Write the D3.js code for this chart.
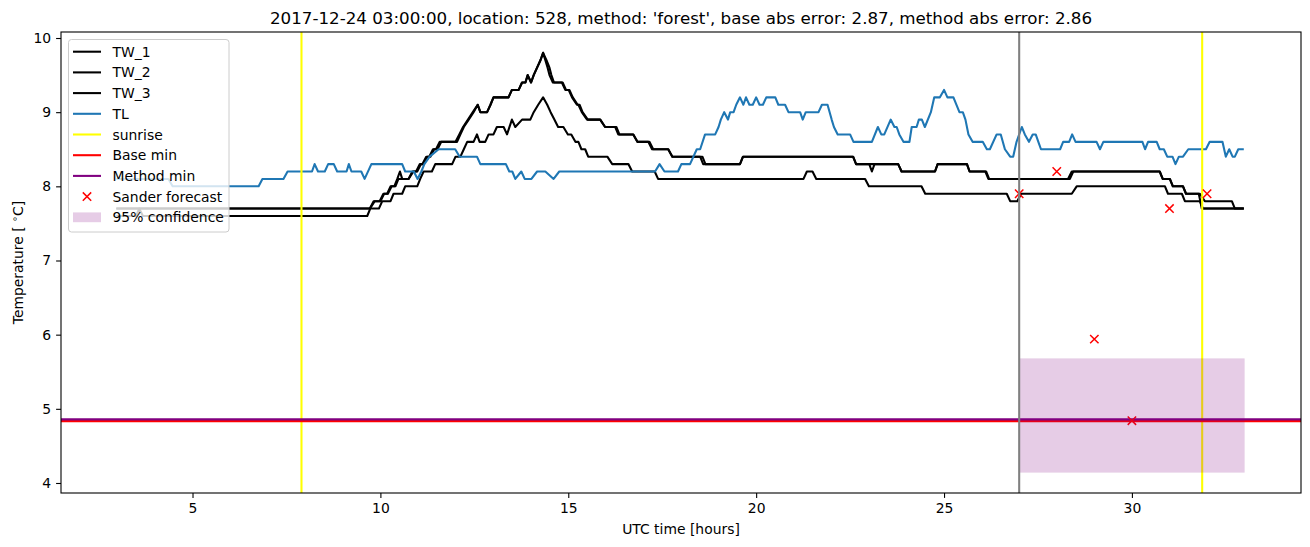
<!DOCTYPE html>
<html>
<head>
<meta charset="utf-8">
<script src="https://cdn.jsdelivr.net/npm/d3@7"></script>
<style>
html,body{margin:0;padding:0;background:#fff;}
svg{display:block;font-family:"DejaVu Sans",sans-serif;}
</style>
</head>
<body>
<svg id="chart" width="1310" height="547"></svg>
<script>
// ---- data (hour, temperature) ----
const tw1 = [[3.0,7.7],[9.72,7.7],[9.82,7.8],[9.98,7.8],[10.08,7.9],[10.18,7.9],[10.27,8.0],[10.37,8.0],[10.45,8.1],[10.52,8.2],[10.58,8.1],[10.75,8.1],[10.85,8.2],[10.95,8.2],[11.05,8.3],[11.12,8.3],[11.22,8.4],[11.3,8.4],[11.4,8.5],[11.48,8.5],[11.58,8.6],[12.04,8.6],[12.13,8.7],[12.22,8.8],[12.35,8.9],[12.48,9.0],[12.59,9.1],[12.66,9.0],[12.84,9.0],[12.93,9.1],[13.01,9.2],[13.41,9.2],[13.5,9.3],[13.68,9.3],[13.77,9.4],[13.86,9.4],[13.92,9.5],[14.01,9.4],[14.08,9.5],[14.17,9.6],[14.26,9.7],[14.33,9.8],[14.39,9.7],[14.45,9.6],[14.5,9.5],[14.59,9.4],[14.83,9.4],[14.92,9.3],[15.01,9.3],[15.1,9.2],[15.23,9.1],[15.27,9.1],[15.36,9.0],[15.5,8.9],[15.85,8.9],[15.98,8.8],[16.25,8.8],[16.33,8.7],[16.73,8.7],[16.84,8.6],[17.13,8.6],[17.23,8.5],[17.66,8.5],[17.77,8.4],[18.51,8.4],[18.59,8.3],[19.57,8.3],[19.65,8.4],[22.58,8.4],[22.66,8.3],[23.01,8.3],[23.08,8.2],[23.15,8.3],[23.78,8.3],[23.87,8.2],[24.76,8.2],[24.83,8.3],[25.61,8.3],[25.68,8.2],[26.12,8.2],[26.2,8.1],[28.35,8.1],[28.44,8.2],[30.74,8.2],[30.82,8.1],[31.01,8.1],[31.09,8.0],[31.36,8.0],[31.44,7.9],[31.81,7.9],[31.94,7.8],[32.66,7.8],[32.74,7.7],[32.95,7.7]];
const tw2 = [[3.0,7.7],[9.72,7.7],[9.85,7.8],[10.0,7.8],[10.1,7.9],[10.2,7.9],[10.3,8.0],[10.4,8.0],[10.48,8.1],[10.75,8.1],[10.88,8.2],[10.98,8.2],[11.08,8.3],[11.15,8.3],[11.25,8.4],[11.33,8.4],[11.43,8.5],[11.52,8.5],[11.62,8.6],[12.0,8.6],[12.1,8.7],[12.2,8.8],[12.33,8.9],[12.46,9.0],[12.59,9.1],[12.66,9.0],[12.84,9.0],[12.93,9.1],[13.01,9.2],[13.41,9.2],[13.5,9.3],[13.68,9.3],[13.77,9.4],[13.86,9.4],[13.92,9.5],[14.01,9.4],[14.08,9.5],[14.17,9.6],[14.26,9.7],[14.33,9.8],[14.42,9.7],[14.5,9.6],[14.55,9.5],[14.62,9.4],[14.85,9.4],[14.94,9.3],[15.03,9.3],[15.12,9.2],[15.25,9.1],[15.3,9.1],[15.38,9.0],[15.52,8.9],[15.85,8.9],[15.98,8.8],[16.28,8.8],[16.36,8.7],[16.73,8.7],[16.84,8.6],[17.16,8.6],[17.26,8.5],[17.66,8.5],[17.77,8.4],[18.57,8.4],[18.65,8.3],[19.57,8.3],[19.65,8.4],[22.58,8.4],[22.66,8.3],[23.78,8.3],[23.87,8.2],[24.76,8.2],[24.83,8.3],[25.61,8.3],[25.68,8.2],[26.1,8.2],[26.18,8.1],[28.3,8.1],[28.4,8.2],[30.74,8.2],[30.82,8.1],[31.01,8.1],[31.09,8.0],[31.36,8.0],[31.44,7.9],[31.78,7.9],[31.86,7.7],[32.95,7.7]];
const tw3 = [[3.0,7.6],[3.5,7.6],[3.58,7.7],[3.68,7.6],[9.65,7.6],[9.73,7.7],[9.96,7.7],[10.05,7.8],[10.27,7.8],[10.35,7.9],[10.58,7.9],[10.66,8.0],[10.98,8.0],[11.06,8.1],[11.15,8.2],[11.37,8.2],[11.46,8.3],[11.91,8.3],[12.0,8.4],[12.13,8.4],[12.22,8.5],[12.31,8.6],[12.48,8.6],[12.57,8.7],[12.64,8.6],[12.79,8.6],[12.88,8.7],[13.01,8.7],[13.1,8.8],[13.28,8.8],[13.37,8.7],[13.5,8.9],[13.59,8.8],[13.77,8.9],[13.99,8.9],[14.08,9.0],[14.2,9.1],[14.33,9.2],[14.44,9.1],[14.53,9.0],[14.63,8.9],[14.73,8.8],[14.87,8.8],[14.99,8.7],[15.08,8.7],[15.19,8.6],[15.27,8.6],[15.35,8.5],[15.45,8.5],[15.53,8.4],[16.04,8.4],[16.17,8.3],[16.6,8.3],[16.7,8.2],[17.3,8.2],[17.39,8.1],[21.26,8.1],[21.35,8.2],[21.5,8.2],[21.6,8.1],[22.9,8.1],[23.0,8.0],[24.4,8.0],[24.5,7.9],[26.67,7.9],[26.76,7.8],[26.95,7.8],[27.05,7.9],[28.4,7.9],[28.53,8.0],[30.88,8.0],[30.96,7.9],[31.33,7.9],[31.41,7.8],[31.81,7.8],[31.89,7.7],[32.95,7.7]];
const tl = [[3.0,8.1],[4.36,8.1],[4.47,8.0],[6.76,8.0],[6.86,8.1],[7.42,8.1],[7.53,8.2],[8.18,8.2],[8.25,8.3],[8.34,8.2],[8.52,8.2],[8.61,8.3],[8.76,8.3],[8.85,8.2],[9.10,8.2],[9.16,8.3],[9.23,8.2],[9.49,8.2],[9.58,8.1],[9.76,8.3],[10.58,8.3],[10.66,8.2],[10.89,8.2],[10.99,8.1],[11.09,8.2],[11.17,8.3],[11.31,8.4],[11.55,8.5],[11.99,8.5],[12.11,8.4],[12.57,8.4],[12.66,8.3],[13.34,8.3],[13.43,8.2],[13.51,8.2],[13.59,8.1],[13.75,8.2],[13.84,8.1],[14.02,8.1],[14.17,8.2],[14.39,8.2],[14.61,8.1],[14.76,8.2],[17.31,8.2],[17.43,8.3],[17.56,8.2],[17.92,8.2],[18.01,8.3],[18.24,8.3],[18.42,8.5],[18.51,8.5],[18.64,8.7],[18.91,8.7],[19.00,8.8],[19.06,8.9],[19.15,9.0],[19.25,8.9],[19.31,9.0],[19.40,9.0],[19.47,9.1],[19.57,9.2],[19.66,9.1],[19.73,9.2],[19.82,9.1],[19.91,9.1],[20.00,9.2],[20.09,9.1],[20.18,9.1],[20.27,9.2],[20.51,9.2],[20.59,9.1],[20.77,9.1],[20.86,9.0],[21.17,9.0],[21.24,8.9],[21.32,9.0],[21.66,9.0],[21.75,9.1],[21.90,9.1],[22.01,8.9],[22.07,8.8],[22.17,8.7],[22.50,8.7],[22.59,8.6],[23.08,8.6],[23.24,8.8],[23.33,8.7],[23.41,8.7],[23.58,8.9],[23.68,8.8],[23.74,8.8],[23.81,8.7],[23.92,8.6],[24.08,8.6],[24.14,8.8],[24.27,8.8],[24.33,8.9],[24.41,8.9],[24.49,8.8],[24.65,9.0],[24.74,9.2],[24.89,9.2],[25.00,9.3],[25.09,9.2],[25.25,9.2],[25.41,9.0],[25.50,9.0],[25.57,8.9],[25.65,8.7],[25.76,8.6],[26.03,8.6],[26.14,8.5],[26.22,8.5],[26.40,8.7],[26.51,8.7],[26.62,8.5],[26.76,8.4],[26.84,8.4],[26.93,8.6],[27.07,8.8],[27.15,8.7],[27.26,8.6],[27.36,8.7],[27.44,8.7],[27.51,8.6],[27.58,8.5],[28.09,8.5],[28.17,8.6],[28.33,8.6],[28.41,8.7],[28.50,8.6],[29.06,8.6],[29.15,8.5],[29.24,8.6],[30.28,8.6],[30.35,8.5],[30.43,8.6],[30.66,8.6],[30.74,8.5],[30.85,8.5],[30.94,8.4],[31.08,8.4],[31.16,8.3],[31.25,8.4],[31.36,8.4],[31.50,8.5],[31.97,8.5],[32.07,8.6],[32.41,8.6],[32.50,8.4],[32.59,8.5],[32.68,8.4],[32.74,8.4],[32.83,8.5],[32.95,8.5]];
const sunrise = [7.9, 31.87];
const forecastStart = 27.0;
const baseMin = 4.834;
const methodMin = 4.858;
const sanderHours = [27, 28, 29, 30, 31, 32];
const sanderTemps = [7.9, 8.2, 5.94, 4.84, 7.7, 7.9];
const confHours = [27, 33];
const confLow = 4.14;
const confHigh = 5.68;
const xTicks = [5, 10, 15, 20, 25, 30];
const yTicks = [4, 5, 6, 7, 8, 9, 10];
const legendLabels = ["TW_1","TW_2","TW_3","TL","sunrise","Base min","Method min","Sander forecast","95% confidence"];
const titleText = "2017-12-24 03:00:00, location: 528, method: 'forest', base abs error: 2.87, method abs error: 2.86";

// ---- layout ----
const L = 61, R = 1301, T = 32, B = 493;
const FS = 13.9;
const svg = d3.select("#chart");
const x = d3.scaleLinear().domain([1.5, 34.5]).range([L, R]);
const y = d3.scaleLinear().domain([3.865, 10.081]).range([B, T]);

svg.append("defs").append("clipPath").attr("id","clip")
  .append("rect").attr("x",L).attr("y",T).attr("width",R-L).attr("height",B-T);
const g = svg.append("g").attr("clip-path","url(#clip)");

const line = d3.line().x(d => x(d[0])).y(d => y(d[1]));
const lw = 2.08;
[tw1, tw2, tw3].forEach(s => {
  g.append("path").attr("d", line(s)).attr("fill","none").attr("stroke","#000")
   .attr("stroke-width", lw).attr("stroke-linejoin","round").attr("stroke-linecap","square");
});
g.append("path").attr("d", line(tl)).attr("fill","none").attr("stroke","#1f77b4")
  .attr("stroke-width", lw).attr("stroke-linejoin","round").attr("stroke-linecap","square");

sunrise.forEach(h => {
  g.append("line").attr("x1",x(h)).attr("x2",x(h)).attr("y1",T).attr("y2",B)
   .attr("stroke","#ffff00").attr("stroke-width",lw);
});
g.append("line").attr("x1",L).attr("x2",R).attr("y1",y(baseMin)).attr("y2",y(baseMin))
  .attr("stroke","#ff0000").attr("stroke-width",lw);
g.append("line").attr("x1",L).attr("x2",R).attr("y1",y(methodMin)).attr("y2",y(methodMin))
  .attr("stroke","#800080").attr("stroke-width",lw);

const ms = 4.2;
sanderHours.forEach((h, i) => {
  const cx = x(h), cy = y(sanderTemps[i]);
  g.append("path").attr("d",`M${cx-ms},${cy-ms}L${cx+ms},${cy+ms}M${cx-ms},${cy+ms}L${cx+ms},${cy-ms}`)
   .attr("stroke","#ff0000").attr("stroke-width",1.5).attr("fill","none");
});

g.append("rect").attr("x",x(confHours[0])).attr("width",x(confHours[1])-x(confHours[0]))
  .attr("y",y(confHigh)).attr("height",y(confLow)-y(confHigh))
  .attr("fill","#800080").attr("fill-opacity",0.2);

g.append("line").attr("x1",x(forecastStart)).attr("x2",x(forecastStart)).attr("y1",T).attr("y2",B)
  .attr("stroke","#808080").attr("stroke-width",lw);

// ---- axes ----
const xa = svg.append("g").attr("transform",`translate(0,${B})`)
  .call(d3.axisBottom(x).tickValues(xTicks).tickSize(4.9).tickPadding(4.9).tickFormat(d3.format("d")));
const ya = svg.append("g").attr("transform",`translate(${L},0)`)
  .call(d3.axisLeft(y).tickValues(yTicks).tickSize(4.9).tickPadding(4.9).tickFormat(d3.format("d")));
[xa, ya].forEach(a => {
  a.select(".domain").remove();
  a.selectAll("line").attr("stroke","#000").attr("stroke-width",1.1);
  a.selectAll("text").attr("font-size",FS).attr("fill","#000").attr("font-family","DejaVu Sans");
});
svg.append("rect").attr("x",L).attr("y",T).attr("width",R-L).attr("height",B-T)
  .attr("fill","none").attr("stroke","#000").attr("stroke-width",1.1);

// ---- labels ----
svg.append("text").attr("x",(L+R)/2).attr("y",24).attr("text-anchor","middle")
  .attr("font-size",16.7).text(titleText);
svg.append("text").attr("x",(L+R)/2).attr("y",534).attr("text-anchor","middle")
  .attr("font-size",FS).text("UTC time [hours]");
const yl = svg.append("text").attr("transform",`translate(23,${(T+B)/2}) rotate(-90)`)
  .attr("text-anchor","middle").attr("font-size",FS);
yl.append("tspan").text("Temperature [ ");
yl.append("tspan").attr("font-size",FS*0.7).attr("dy",-5).text("\u2218");
yl.append("tspan").attr("dy",5).text("C]");

// ---- legend ----
const lg = svg.append("g");
lg.append("rect").attr("x",68.5).attr("y",39.5).attr("width",160.5).attr("height",192.5)
  .attr("rx",3).attr("fill","#fff").attr("fill-opacity",0.8).attr("stroke","#cccccc").attr("stroke-width",1);
const styles = [
  {t:"line",c:"#000"},{t:"line",c:"#000"},{t:"line",c:"#000"},{t:"line",c:"#1f77b4"},
  {t:"line",c:"#ffff00"},{t:"line",c:"#ff0000"},{t:"line",c:"#800080"},{t:"x",c:"#ff0000"},{t:"patch",c:"#800080"}
];
legendLabels.forEach((lab, i) => {
  const cy = 51.7 + i*20.7;
  const s = styles[i];
  if (s.t === "line") {
    lg.append("line").attr("x1",73).attr("x2",101).attr("y1",cy).attr("y2",cy)
      .attr("stroke",s.c).attr("stroke-width",lw);
  } else if (s.t === "x") {
    const cx = 87;
    lg.append("path").attr("d",`M${cx-ms},${cy-ms}L${cx+ms},${cy+ms}M${cx-ms},${cy+ms}L${cx+ms},${cy-ms}`)
      .attr("stroke",s.c).attr("stroke-width",1.5);
  } else {
    lg.append("rect").attr("x",73).attr("y",cy-4.9).attr("width",28).attr("height",9.8)
      .attr("fill",s.c).attr("fill-opacity",0.2);
  }
  lg.append("text").attr("x",112.5).attr("y",cy+5).attr("font-size",FS).text(lab);
});
</script>
</body>
</html>
